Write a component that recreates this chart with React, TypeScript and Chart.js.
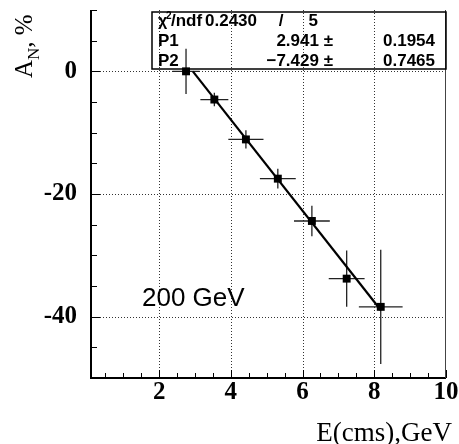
import React, { useEffect, useRef } from 'react';
import { Chart, registerables } from 'chart.js';

Chart.register(...registerables);

// ---- data ----
const energies = [2.75, 3.54, 4.42, 5.31, 6.26, 7.23, 8.18];
const energyErr = [0.38, 0.39, 0.49, 0.5, 0.5, 0.5, 0.61];
const asym = [0.0, -4.6, -11.1, -17.5, -24.4, -33.8, -38.4];
const asymErr = [3.7, 1.1, 1.5, 1.6, 2.5, 4.6, 9.3];
const fitX = [2.94, 8.19];
const fitY = [0.0, -39.0];
const xMajorTicks = [2, 4, 6, 8, 10];
const yMajorTicks = [0, -20, -40];
const xGridValues = [2, 4, 6, 8];
const yGridValues = [0, -20, -40];
const X_MIN = 0.1;
const X_MAX = 10;
const Y_MIN = -50;
const Y_MAX = 10;
const X_MINOR_STEP = 0.5;
const Y_MINOR_STEP = 5;
const statsChi = ['0.2430', '/', '5'];
const statsP1 = ['P1', '2.941 ±', '0.1954'];
const statsP2 = ['P2', '\u22127.429 ±', '0.7465'];
const energyLabel = '200 GeV';
const xTitle = 'E(cms),GeV';

const SERIF = '"Liberation Serif", "Times New Roman", serif';
const SANS = '"Liberation Sans", Arial, sans-serif';

const overlay = {
  id: 'overlay',
  beforeDatasetsDraw(chart: any) {
    const { ctx, chartArea: a, scales } = chart;
    const x = scales.x;
    const y = scales.y;
    ctx.save();
    // dotted grid
    ctx.strokeStyle = '#333';
    ctx.lineWidth = 1;
    ctx.setLineDash([1, 2]);
    xGridValues.forEach((v) => {
      const px = Math.round(x.getPixelForValue(v)) + 0.5;
      ctx.beginPath();
      ctx.moveTo(px, a.top);
      ctx.lineTo(px, a.bottom);
      ctx.stroke();
    });
    yGridValues.forEach((v) => {
      const py = Math.round(y.getPixelForValue(v)) + 0.5;
      ctx.beginPath();
      ctx.moveTo(a.left, py);
      ctx.lineTo(a.right, py);
      ctx.stroke();
    });
    ctx.setLineDash([]);
    // error bars
    ctx.strokeStyle = '#222';
    ctx.lineWidth = 1.3;
    energies.forEach((e, i) => {
      const px = x.getPixelForValue(e);
      const py = y.getPixelForValue(asym[i]);
      ctx.beginPath();
      ctx.moveTo(x.getPixelForValue(e - energyErr[i]), py);
      ctx.lineTo(x.getPixelForValue(e + energyErr[i]), py);
      ctx.moveTo(px, y.getPixelForValue(asym[i] + asymErr[i]));
      ctx.lineTo(px, y.getPixelForValue(asym[i] - asymErr[i]));
      ctx.stroke();
    });
    ctx.restore();
  },
  afterDraw(chart: any) {
    const { ctx, chartArea: a, scales } = chart;
    const x = scales.x;
    const y = scales.y;
    ctx.save();
    // frame
    ctx.strokeStyle = '#000';
    ctx.lineWidth = 2;
    ctx.beginPath();
    ctx.moveTo(a.left, a.top);
    ctx.lineTo(a.left, a.bottom);
    ctx.lineTo(a.right, a.bottom);
    ctx.stroke();
    ctx.strokeStyle = '#444';
    ctx.lineWidth = 1;
    ctx.beginPath();
    ctx.moveTo(a.right - 0.5, a.top);
    ctx.lineTo(a.right - 0.5, a.bottom);
    ctx.stroke();
    // tick marks
    ctx.strokeStyle = '#000';
    ctx.lineWidth = 1;
    for (let v = 0.5; v < X_MAX + 1e-6; v += X_MINOR_STEP) {
      if (v < X_MIN) continue;
      const px = Math.round(x.getPixelForValue(v)) + 0.5;
      const major = xMajorTicks.includes(Math.round(v * 10) / 10);
      ctx.beginPath();
      ctx.moveTo(px, a.bottom);
      ctx.lineTo(px, a.bottom - (major ? 8 : 5));
      ctx.stroke();
    }
    for (let v = Y_MIN; v <= Y_MAX + 1e-6; v += Y_MINOR_STEP) {
      const py = Math.round(y.getPixelForValue(v)) + 0.5;
      const major = yMajorTicks.includes(v);
      ctx.beginPath();
      ctx.moveTo(a.left, py);
      ctx.lineTo(a.left + (major ? 9 : 6), py);
      ctx.stroke();
    }
    // stats box
    const bx = 152;
    const by = 12;
    const bw = a.right - bx;
    const bh = 57;
    ctx.lineWidth = 1.5;
    ctx.strokeStyle = '#000';
    ctx.strokeRect(bx, by, bw, bh);
    ctx.fillStyle = '#000';
    ctx.font = 'bold 16px ' + SANS;
    ctx.textBaseline = 'alphabetic';
    ctx.textAlign = 'left';
    ctx.fillText('\u03c7', 158, 26);
    ctx.font = 'bold 10px ' + SANS;
    ctx.fillText('2', 166, 19);
    ctx.font = 'bold 17px ' + SANS;
    ctx.fillText('/ndf', 171, 26);
    ctx.textAlign = 'right';
    ctx.fillText(statsChi[0], 257, 26);
    ctx.textAlign = 'center';
    ctx.fillText(statsChi[1], 281, 26);
    ctx.textAlign = 'right';
    ctx.fillText(statsChi[2], 318, 26);
    ctx.textAlign = 'left';
    ctx.fillText(statsP1[0], 158, 46);
    ctx.fillText(statsP2[0], 158, 66);
    ctx.textAlign = 'right';
    ctx.fillText(statsP1[1], 333, 46);
    ctx.fillText(statsP2[1], 333, 66);
    ctx.fillText(statsP1[2], 435, 46);
    ctx.fillText(statsP2[2], 435, 66);
    // energy label
    ctx.textAlign = 'left';
    ctx.font = '26px ' + SANS;
    ctx.fillText(energyLabel, 142, 306);
    // x title
    ctx.textAlign = 'right';
    ctx.font = '27px ' + SERIF;
    ctx.fillText(xTitle, 452, 441);
    // y title (rotated)
    ctx.translate(32, 78);
    ctx.rotate(-Math.PI / 2);
    ctx.textAlign = 'left';
    ctx.font = '25px ' + SERIF;
    ctx.fillText('A', 0, 0);
    let off = ctx.measureText('A').width;
    ctx.font = '17px ' + SERIF;
    ctx.fillText('N', off, 7);
    off += ctx.measureText('N').width;
    ctx.font = '25px ' + SERIF;
    ctx.fillText(', %', off, 0);
    ctx.restore();
  },
};

export default function App() {
  const ref = useRef<HTMLCanvasElement>(null);
  useEffect(() => {
    if (!ref.current) return;
    const chart = new Chart(ref.current, {
      type: 'scatter',
      data: {
        datasets: [
          {
            label: 'data',
            data: energies.map((e, i) => ({ x: e, y: asym[i] })),
            pointStyle: 'rect',
            pointRadius: 5.6,
            pointBackgroundColor: '#000',
            pointBorderColor: '#000',
            pointBorderWidth: 0,
            showLine: false,
          },
          {
            label: 'fit',
            data: fitX.map((v, i) => ({ x: v, y: fitY[i] })),
            showLine: true,
            borderColor: '#000',
            borderWidth: 2.2,
            pointRadius: 0,
          },
        ],
      },
      options: {
        animation: false,
        responsive: false,
        events: [],
        layout: { padding: { left: 0, top: 10, right: 13, bottom: 0 } },
        plugins: { legend: { display: false }, tooltip: { enabled: false } },
        scales: {
          x: {
            type: 'linear',
            min: X_MIN,
            max: X_MAX,
            grid: { display: false },
            border: { display: false },
            afterBuildTicks: (s: any) => {
              s.ticks = xMajorTicks.map((v) => ({ value: v }));
            },
            afterFit: (s: any) => {
              s.height = 66;
              s.paddingLeft = 0;
              s.paddingRight = 0;
            },
            ticks: {
              autoSkip: false,
              maxRotation: 0,
              padding: -8,
              color: '#000',
              font: { family: SERIF, size: 25, weight: 'bold' },
              callback: (v: any) => String(v),
            },
          },
          y: {
            type: 'linear',
            min: Y_MIN,
            max: Y_MAX,
            grid: { display: false },
            border: { display: false },
            afterBuildTicks: (s: any) => {
              s.ticks = yMajorTicks.map((v) => ({ value: v }));
            },
            afterFit: (s: any) => {
              s.width = 91;
              s.paddingTop = 0;
              s.paddingBottom = 0;
            },
            ticks: {
              autoSkip: false,
              padding: 6,
              color: '#000',
              font: { family: SERIF, size: 25, weight: 'bold' },
              callback: (v: any) => String(v),
            },
          },
        },
      },
      plugins: [overlay],
    });
    return () => chart.destroy();
  }, []);
  return (
    <div style={{ position: 'absolute', left: 0, top: 0, width: 459, height: 444 }}>
      <canvas ref={ref} width={459} height={444} style={{ width: 459, height: 444, display: 'block' }} />
    </div>
  );
}
